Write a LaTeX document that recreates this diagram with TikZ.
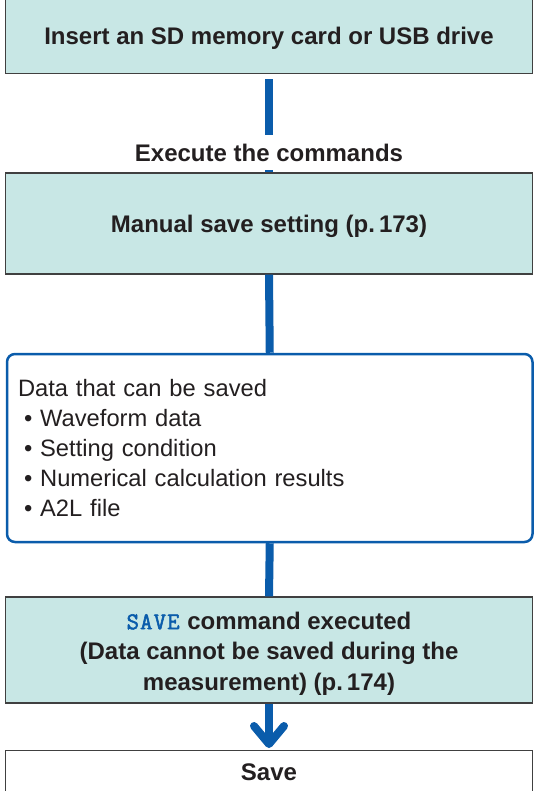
\documentclass[tikz,border=0pt]{standalone}
\usepackage{fontspec}
\setmainfont{Liberation Sans}
\newfontfamily\cmdfont[FakeBold=2.2,LetterSpace=5]{Latin Modern Mono}
\definecolor{boxfill}{HTML}{C8E7E5}
\definecolor{flowblue}{HTML}{0A5CAB}
\definecolor{boxline}{HTML}{404040}
\definecolor{txt}{HTML}{231F20}
\begin{document}
\begin{tikzpicture}[x=1pt,y=-1pt,
  stepbox/.style={draw=boxline, line width=1.3pt, fill=boxfill, minimum width=527pt, inner sep=0pt},
  endbox/.style={stepbox, fill=white},
  boxtext/.style={inner sep=0pt, align=center, font=\bfseries\fontsize{24}{30.5}\selectfont, text=txt},
  infobox/.style={draw=flowblue, line width=2.5pt, rounded corners=8pt, fill=white, minimum height=188pt, text width=503.5pt, inner xsep=11pt, inner ysep=0pt, align=left, font=\fontsize{23.7}{30}\selectfont, text=txt},
  conn/.style={draw=flowblue, line width=8pt},
  label/.style={fill=white, inner sep=0pt, minimum height=35pt, font=\bfseries\fontsize{24}{30}\selectfont, text=txt}
]
\useasboundingbox (0,0) rectangle (533,791);
\node[stepbox, minimum height=74.5pt] (b1) at (269,36.25) {};
\node[boxtext] (t1) at ([yshift=-2.5pt]b1.center) {Insert an SD memory card or USB drive};
\node[stepbox, minimum height=101pt] (b2) at (269,223.5) {};
\node[boxtext] (t2) at ([yshift=-3pt]b2.center) {Manual save setting (p.\,173)};
\node[infobox, minimum width=525.5pt] (b3) at (269.75,448) {Data that can be saved\\
\hspace*{6pt}• Waveform data\\
\hspace*{6pt}• Setting condition\\
\hspace*{6pt}• Numerical calculation results\\
\hspace*{6pt}• A2L file};
\node[stepbox, minimum height=106pt] (b4) at (269,650) {};
\node[boxtext] (t4) at ([yshift=-3.5pt]b4.center) {{\cmdfont\mdseries\color{flowblue}SAVE}\hspace{1pt} command executed\\(Data cannot be saved during the\\measurement) (p.\,174)};
\node[endbox, minimum height=45pt, anchor=north] (b5) at (269,750) {};
\node[boxtext] (t5) at (269,772) {Save};
% connectors
\draw[conn] ([yshift=-5pt]b1.south) -- (b2.north);
\node[label] (exec) at (269,152.5) {Execute the commands};
\draw[conn] (b2.south) -- (b3.north);
\draw[conn] (b3.south) -- (b4.north);
\coordinate (tip) at ([yshift=6pt]b5.north);
\draw[conn] (b4.south) -- (tip);
\draw[conn, line cap=round, line join=round] ([shift={(-15,-18)}]tip) -- (tip) -- ([shift={(15,-18)}]tip);
\end{tikzpicture}
\end{document}
